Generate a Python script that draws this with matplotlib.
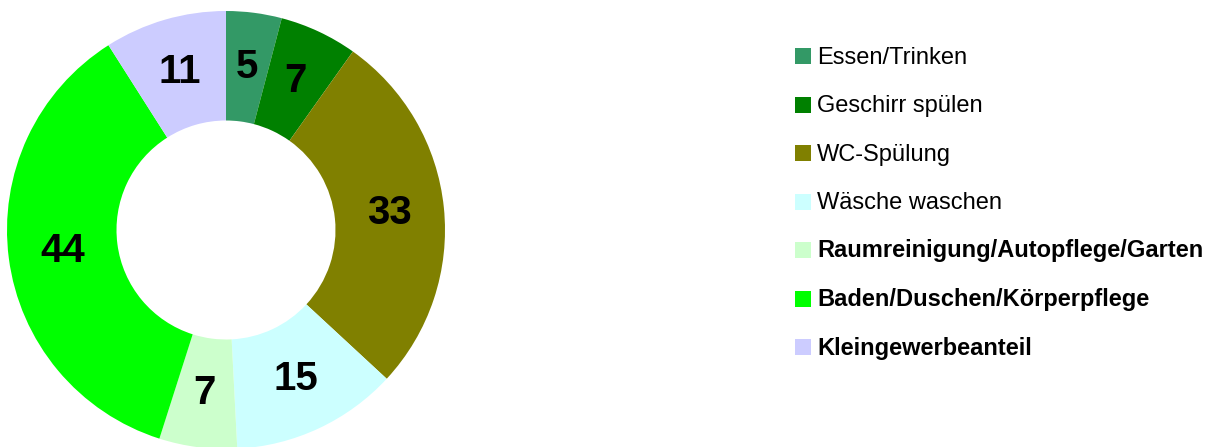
import matplotlib
matplotlib.use("Agg")
import matplotlib.pyplot as plt
from matplotlib.patches import Rectangle

categories = ["Essen/Trinken", "Geschirr spülen", "WC-Spülung", "Wäsche waschen",
              "Raumreinigung/Autopflege/Garten", "Baden/Duschen/Körperpflege",
              "Kleingewerbeanteil"]
values = [5, 7, 33, 15, 7, 44, 11]
colors = ["#339966", "#008000", "#808000", "#CCFFFF", "#CCFFCC", "#00FF00", "#CCCCFF"]
bold_legend = [False, False, False, False, True, True, True]

W, H = 1216, 447
fig = plt.figure(figsize=(W / 100, H / 100), dpi=100)

cx, cy, R = 226, 230, 219  # pixel coords from top-left
ax = fig.add_axes([(cx - R) / W, (H - cy - R) / H, 2 * R / W, 2 * R / H])
total = sum(values)
wedges, _, autotexts = ax.pie(
    values, colors=colors, startangle=90, counterclock=False, radius=1.0,
    wedgeprops=dict(width=0.5, edgecolor="none", linewidth=0),
    autopct=lambda p: f"{round(p * total / 100):d}", pctdistance=0.75,
    textprops=dict(fontfamily="Liberation Sans", fontweight="bold", fontsize=29, color="black"))
for t in autotexts:
    t.set_va("center")
    t.set_ha("center")
ax.set_xlim(-1, 1)
ax.set_ylim(-1, 1)
ax.set_aspect("equal")
ax.axis("off")

# legend
x_sq, y0, step, sq = 795, 48, 48.5, 16
for i, (lab, col, b) in enumerate(zip(categories, colors, bold_legend)):
    top = y0 + i * step
    fig.patches.append(Rectangle((x_sq / W, (H - top - sq) / H), sq / W, sq / H,
                                 transform=fig.transFigure, facecolor=col, edgecolor="none"))
    fig.text((x_sq + 22) / W, (H - top - sq + 0.5) / H, lab, fontsize=17,
             fontfamily="Liberation Sans", fontweight="bold" if b else "normal",
             va="baseline", ha="left", color="black")

fig.savefig("out.png", dpi=100, facecolor="white")
